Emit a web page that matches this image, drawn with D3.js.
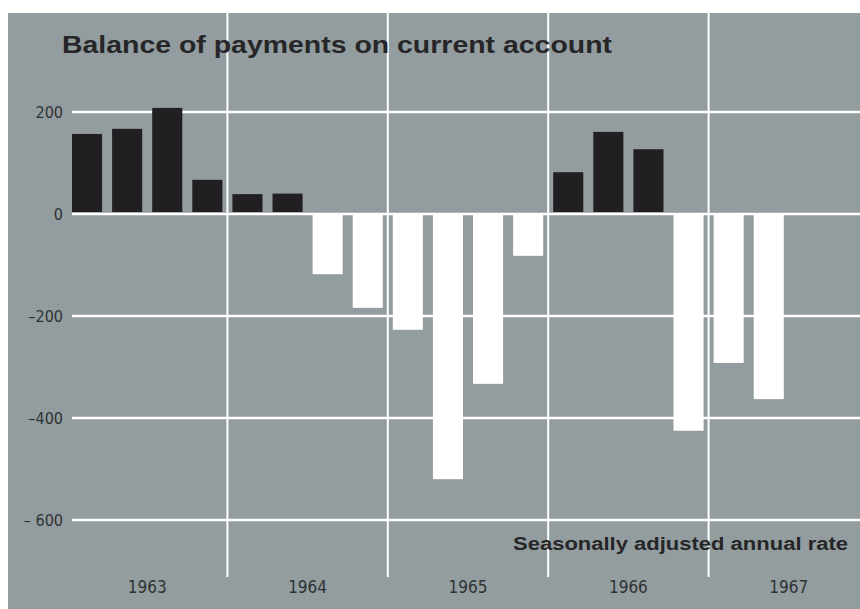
<!DOCTYPE html>
<html>
<head>
<meta charset="utf-8">
<script src="https://cdn.jsdelivr.net/npm/d3@7"></script>
<style>
  html, body { margin: 0; padding: 0; background: #ffffff; }
  svg { display: block; }
</style>
</head>
<body>
<svg id="chart" width="860" height="609"></svg>
<script>
// ---- Data ----
const years = ["1963", "1964", "1965", "1966", "1967"];
const quarters = ["Q1", "Q2", "Q3", "Q4"];
const quarterKeys = years.flatMap(y => quarters.map(q => y + " " + q));
const values = [
  157, 167, 208, 67,      // 1963
  39, 40, -118, -184,     // 1964
  -227, -520, -333, -82,  // 1965
  82, 161, 127, -425,     // 1966
  -292, -363              // 1967 (Q1, Q2)
];
const yTicks = [200, 0, -200, -400, -600];
const tickLabels = ["200", "0", "\u2013200", "\u2013400", "\u2013 600"];
const title = "Balance of payments on current account";
const subtitle = "Seasonally adjusted annual rate";

// ---- Layout ----
const W = 860, H = 609;
const svg = d3.select("#chart");
const bg = "#939d9f";

svg.append("rect").attr("x", 8).attr("y", 13).attr("width", W - 8).attr("height", H - 13).attr("fill", bg);

const x = d3.scaleBand().domain(quarterKeys).range([67, 869]).paddingInner(0.25).paddingOuter(0.125);
const step = x.step();
const y = d3.scaleLinear().domain([-600, 200]).range([520, 112]);

const data = values.map((v, i) => ({ key: quarterKeys[i], v }));

// horizontal grid lines
svg.append("g").selectAll("line").data(yTicks).join("line")
  .attr("x1", 72).attr("x2", W)
  .attr("y1", d => y(d)).attr("y2", d => y(d))
  .attr("stroke", "#ffffff").attr("stroke-width", 2.5);

// vertical year separators
const x0 = x.range()[0];
const seps = years.slice(1).map((yr, i) => x0 + (i + 1) * 4 * step);
svg.append("g").selectAll("line").data(seps).join("line")
  .attr("x1", d => d).attr("x2", d => d)
  .attr("y1", 13).attr("y2", 577)
  .attr("stroke", "#ffffff").attr("stroke-width", 2);

// bars
svg.append("g").selectAll("rect").data(data).join("rect")
  .attr("x", d => x(d.key))
  .attr("width", x.bandwidth())
  .attr("y", d => d.v >= 0 ? y(d.v) : y(0))
  .attr("height", d => d.v >= 0 ? Math.max(0, y(0) - y(d.v) - 2) : y(d.v) - y(0))
  .attr("fill", d => d.v >= 0 ? "#221f22" : "#ffffff");

// y tick labels
svg.append("g").selectAll("text").data(yTicks).join("text")
  .attr("x", 63).attr("y", (d) => y(d))
  .attr("dy", "0.35em")
  .attr("text-anchor", "end")
  .attr("font-family", "'Liberation Sans Narrow', 'DejaVu Sans Condensed', sans-serif")
  .attr("font-size", 16)
  .attr("fill", "#2e3233")
  .text((d, i) => tickLabels[i]);

// year labels
svg.append("g").selectAll("text").data(years).join("text")
  .attr("x", (d, i) => x0 + (i * 4 + 2) * step)
  .attr("y", 593)
  .attr("text-anchor", "middle")
  .attr("font-family", "'Liberation Sans Narrow', 'DejaVu Sans Condensed', sans-serif")
  .attr("font-size", 17)
  .attr("fill", "#2e3233")
  .text(d => d);

// title
svg.append("text")
  .attr("x", 62).attr("y", 53)
  .attr("font-family", "'Liberation Sans', Arial, sans-serif")
  .attr("font-weight", "bold")
  .attr("font-size", 23)
  .attr("textLength", 550)
  .attr("lengthAdjust", "spacingAndGlyphs")
  .attr("fill", "#262628")
  .text(title);

// subtitle
svg.append("text")
  .attr("x", 513).attr("y", 550)
  .attr("font-family", "'Liberation Sans', Arial, sans-serif")
  .attr("font-weight", "bold")
  .attr("font-size", 18)
  .attr("textLength", 335)
  .attr("lengthAdjust", "spacingAndGlyphs")
  .attr("fill", "#262628")
  .text(subtitle);
</script>
</body>
</html>
